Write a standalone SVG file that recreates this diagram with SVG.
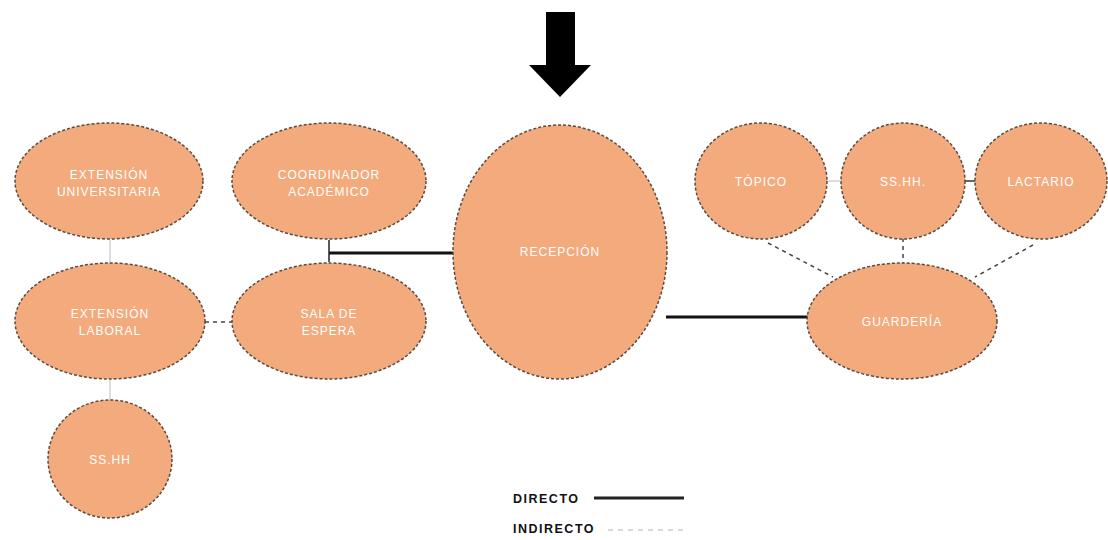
<svg xmlns="http://www.w3.org/2000/svg" width="1108" height="540" viewBox="0 0 1108 540">
<style>
.node ellipse{fill:#F3AA7C;stroke:#5a4a40;stroke-width:1.5;stroke-dasharray:3 2}
.node text{fill:#ffffff;font-family:"Liberation Sans",Arial,sans-serif;font-size:12px;letter-spacing:1px;text-anchor:middle}
.direct{stroke:#111;stroke-width:3;fill:none}
.dash{stroke:#444;stroke-width:1.5;stroke-dasharray:4 4;fill:none}
.faint{stroke:#bbb;stroke-width:1;fill:none}
.legend{font-family:"Liberation Sans",Arial,sans-serif;font-size:12.5px;font-weight:bold;fill:#111;letter-spacing:1.5px}
</style>
<rect width="1108" height="540" fill="#ffffff"/>
<g id="connectors">
<path class="direct" d="M453,253 H329"/>
<path d="M329,240 V262" stroke="#222" stroke-width="1.5" fill="none"/>
<path class="direct" d="M666,317 H808"/>
<path class="dash" d="M205,322 H232"/>
<path class="faint" d="M110,240 V263"/>
<path class="faint" d="M110,380 V400"/>
<path class="faint" d="M827,181 H842"/>
<path d="M965,181 H976" stroke="#333" stroke-width="1.5"/>
<path class="dash" d="M768,243 L833,277"/>
<path class="dash" d="M903,238 V263"/>
<path class="dash" d="M1033,245 L975,277"/>
</g>
<g id="arrow">
<path d="M546,12 H575 V65 H591 L560,97 L529,65 H546 Z" fill="#000"/>
</g>
<g id="recepcion" class="node">
<ellipse cx="560" cy="252" rx="107" ry="127"/>
<text x="560" y="256">RECEPCIÓN</text>
</g>
<g id="ext-univ" class="node">
<ellipse cx="109" cy="181" rx="94" ry="58"/>
<text x="109" y="179">EXTENSIÓN</text>
<text x="109" y="196">UNIVERSITARIA</text>
</g>
<g id="coordinador" class="node">
<ellipse cx="329" cy="181" rx="97" ry="58"/>
<text x="329" y="179">COORDINADOR</text>
<text x="329" y="196">ACADÉMICO</text>
</g>
<g id="ext-laboral" class="node">
<ellipse cx="110" cy="321" rx="95" ry="58"/>
<text x="110" y="318">EXTENSIÓN</text>
<text x="110" y="335">LABORAL</text>
</g>
<g id="sala" class="node">
<ellipse cx="329" cy="321" rx="97" ry="58"/>
<text x="329" y="318">SALA DE</text>
<text x="329" y="335">ESPERA</text>
</g>
<g id="sshh-left" class="node">
<ellipse cx="110" cy="459" rx="62" ry="59"/>
<text x="110" y="464">SS.HH</text>
</g>
<g id="topico" class="node">
<ellipse cx="761" cy="181" rx="66" ry="58"/>
<text x="761" y="186">TÓPICO</text>
</g>
<g id="sshh-right" class="node">
<ellipse cx="903" cy="181" rx="62" ry="58"/>
<text x="903" y="186">SS.HH.</text>
</g>
<g id="lactario" class="node">
<ellipse cx="1041" cy="181" rx="66" ry="58"/>
<text x="1041" y="186">LACTARIO</text>
</g>
<g id="guarderia" class="node">
<ellipse cx="902" cy="321" rx="95" ry="58"/>
<text x="902" y="326">GUARDERÍA</text>
</g>
<g id="legend">
<text class="legend" x="513" y="503">DIRECTO</text>
<path d="M594,498 H684" stroke="#222" stroke-width="3"/>
<text class="legend" x="513" y="533">INDIRECTO</text>
<path d="M608,530 H684" stroke="#ccc" stroke-width="1.5" stroke-dasharray="5 5"/>
</g>
</svg>
